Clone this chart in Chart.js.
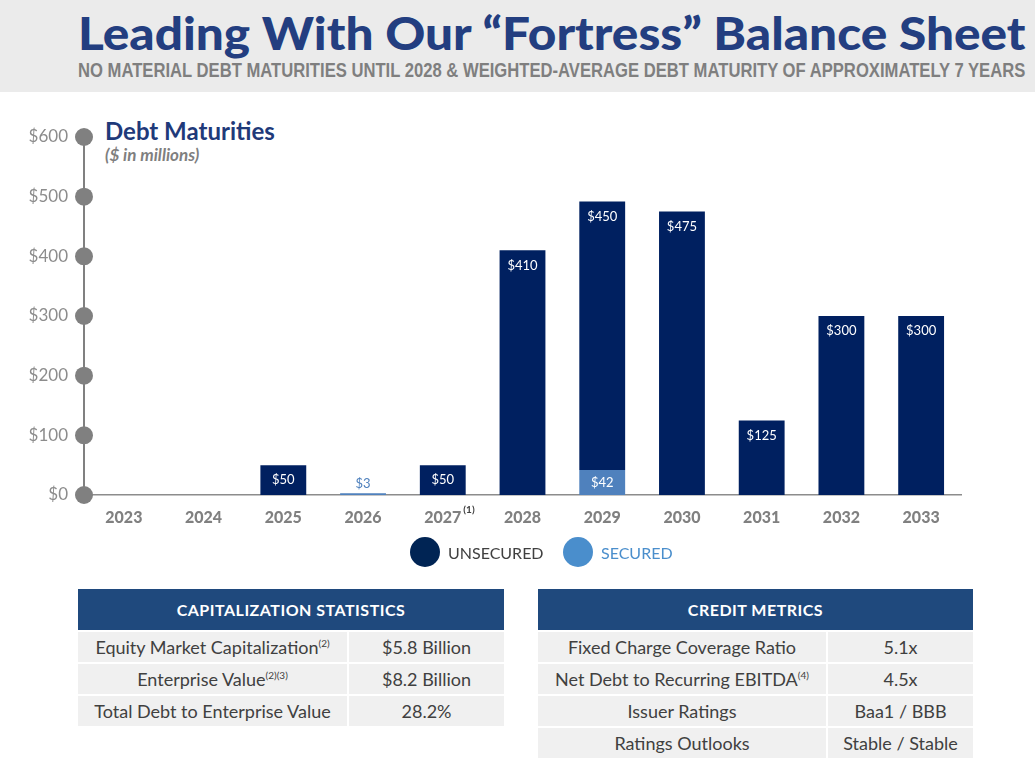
<!DOCTYPE html>
<html>
<head>
<meta charset="utf-8">
<script src="https://cdn.jsdelivr.net/npm/chart.js@4.4.1/dist/chart.umd.min.js"></script>
<style>
  body { margin: 0; width: 1035px; height: 767px; background: #fff; position: relative; overflow: hidden; font-family: Lato, "Liberation Sans", sans-serif; }
  .band { position: absolute; left: 0; top: 0; width: 1035px; height: 92px; background: #ebebeb; }
  .fit { position: absolute; left: 78px; white-space: nowrap; transform-origin: 0 0; }
  #title { top: 5px; font-size: 46px; font-weight: 900; color: #233e80; }
  #sub { top: 59px; font-size: 20px; font-weight: 700; color: #7f7f7f; font-family: "Liberation Sans Narrow", "Liberation Sans", sans-serif; }
  #chartTitle { position: absolute; left: 105px; top: 116px; font-size: 24px; font-weight: 700; color: #1f3a7a; }
  #chartSub { position: absolute; left: 105px; top: 144px; font-size: 17px; font-weight: 700; font-style: italic; color: #7f7f7f; }
  #wrap { position: absolute; left: 0; top: 100px; }
  .leg { position: absolute; top: 537px; height: 30px; display: flex; align-items: center; font-size: 16px; }
  .leg i { display: inline-block; width: 30px; height: 30px; border-radius: 50%; margin-right: 8px; }
  .tbl { position: absolute; top: 589px; }
  .tbl .hd { height: 41px; background: #1f497d; color: #fff; font-weight: 700; font-size: 16px; letter-spacing: 0.5px; display: flex; align-items: center; justify-content: center; }
  .tbl .row { display: flex; margin-top: 2px; }
  .tbl .row:first-of-type { margin-top: 4px; }
  .tbl .c { height: 30px; background: #f0f0f0; color: #404040; font-size: 18px; display: flex; align-items: center; justify-content: center; white-space: nowrap; }
  .tbl .c + .c { margin-left: 2px; }
  sup { font-size: 10px; vertical-align: 7px; line-height: 0; }
</style>
</head>
<body>
<div class="band"></div>
<div id="title" class="fit">Leading With Our “Fortress” Balance Sheet</div>
<div id="sub" class="fit">NO MATERIAL DEBT MATURITIES UNTIL 2028 &amp; WEIGHTED-AVERAGE DEBT MATURITY OF APPROXIMATELY 7 YEARS</div>

<div id="chartTitle">Debt Maturities</div>
<div id="chartSub">($ in millions)</div>
<div id="wrap"><canvas id="chart" width="1035" height="480"></canvas></div>

<div class="leg" style="left:410px;color:#404040"><i style="background:#002454"></i>UNSECURED</div>
<div class="leg" style="left:563px;color:#4a8ecc"><i style="background:#4a8ecc"></i>SECURED</div>

<div class="tbl" style="left:78px;width:426px">
  <div class="hd">CAPITALIZATION STATISTICS</div>
  <div class="row"><div class="c" style="width:269px"><span>Equity Market Capitalization<sup>(2)</sup></span></div><div class="c" style="width:155px">$5.8 Billion</div></div>
  <div class="row"><div class="c" style="width:269px"><span>Enterprise Value<sup>(2)(3)</sup></span></div><div class="c" style="width:155px">$8.2 Billion</div></div>
  <div class="row"><div class="c" style="width:269px">Total Debt to Enterprise Value</div><div class="c" style="width:155px">28.2%</div></div>
</div>

<div class="tbl" style="left:538px;width:435px">
  <div class="hd">CREDIT METRICS</div>
  <div class="row"><div class="c" style="width:288px">Fixed Charge Coverage Ratio</div><div class="c" style="width:145px">5.1x</div></div>
  <div class="row"><div class="c" style="width:288px"><span>Net Debt to Recurring EBITDA<sup>(4)</sup></span></div><div class="c" style="width:145px">4.5x</div></div>
  <div class="row"><div class="c" style="width:288px">Issuer Ratings</div><div class="c" style="width:145px">Baa1 / BBB</div></div>
  <div class="row"><div class="c" style="width:288px">Ratings Outlooks</div><div class="c" style="width:145px">Stable / Stable</div></div>
</div>

<script>
const years = ['2023', '2024', '2025', '2026', '2027', '2028', '2029', '2030', '2031', '2032', '2033'];
const secured = [null, null, null, 3, null, null, 42, null, null, null, null];
const unsecured = [null, null, 50, null, 50, 410, 450, 475, 125, 300, 300];
const yTicks = [0, 100, 200, 300, 400, 500, 600];
const footnoteYear = '2027';

// stretch header lines to the reference width
function fit(id, w) {
  const el = document.getElementById(id);
  el.style.transform = 'scaleX(' + (w / el.scrollWidth) + ')';
}
fit('title', 947);
fit('sub', 947);

const NAVY = '#002060';
const BLUE = '#4f81bd';
const GREY = '#808080';

const tickDots = {
  id: 'tickDots',
  afterDraw(chart) {
    const ctx = chart.ctx;
    const ys = chart.scales.y;
    ctx.save();
    ctx.fillStyle = GREY;
    yTicks.forEach(v => {
      ctx.beginPath();
      ctx.arc(chart.chartArea.left, ys.getPixelForValue(v), 9, 0, Math.PI * 2);
      ctx.fill();
    });
    // footnote marker on 2027
    const xs = chart.scales.x;
    const i = years.indexOf(footnoteYear);
    ctx.font = 'bold 16px Lato';
    const w = ctx.measureText(footnoteYear).width;
    ctx.font = 'bold 10px Lato';
    ctx.fillStyle = '#404040';
    ctx.textBaseline = 'middle';
    ctx.fillText('(1)', xs.getPixelForValue(i) + w / 2 + 2, chart.chartArea.bottom + 15);
    ctx.restore();
  }
};

const barLabels = {
  id: 'barLabels',
  afterDatasetsDraw(chart) {
    const ctx = chart.ctx;
    ctx.save();
    ctx.font = '13px Lato';
    ctx.textAlign = 'center';
    ctx.textBaseline = 'middle';
    chart.data.datasets.forEach((ds, di) => {
      chart.getDatasetMeta(di).data.forEach((bar, j) => {
        const v = ds.data[j];
        if (!v) return;
        const h = bar.base - bar.y;
        let y = bar.y + 15;
        ctx.fillStyle = '#fff';
        if (h < 20) { y = bar.y - 9; ctx.fillStyle = BLUE; }
        else if (di === 0) { y = (bar.y + bar.base) / 2; }
        ctx.fillText('$' + v, bar.x, y);
      });
    });
    ctx.restore();
  }
};

function draw() {
  new Chart(document.getElementById('chart'), {
    type: 'bar',
    data: {
      labels: years,
      datasets: [
        { label: 'SECURED', data: secured, backgroundColor: BLUE, categoryPercentage: 1, barPercentage: 0.575 },
        { label: 'UNSECURED', data: unsecured, backgroundColor: NAVY, categoryPercentage: 1, barPercentage: 0.575 }
      ]
    },
    options: {
      responsive: false,
      animation: false,
      layout: { padding: { top: 37, right: 74, left: 0, bottom: 0 } },
      plugins: { legend: { display: false }, tooltip: { enabled: false } },
      scales: {
        x: {
          stacked: true,
          afterFit: s => { s.height = 85; },
          grid: { display: false, drawTicks: false },
          border: { display: true, color: '#8c8c8c', width: 1.5 },
          ticks: { color: GREY, padding: 13, font: { family: 'Lato', size: 16, weight: 900 } }
        },
        y: {
          stacked: true,
          min: 0,
          max: 600,
          afterFit: s => { s.width = 84; },
          afterBuildTicks: s => { s.ticks = yTicks.map(v => ({ value: v })); },
          grid: { display: false, drawTicks: false },
          border: { display: true, color: GREY, width: 2 },
          ticks: { color: '#8c8c8c', padding: 16, font: { family: 'Lato', size: 17 }, callback: v => '$' + v }
        }
      }
    },
    plugins: [barLabels, tickDots]
  });
}

Promise.all([
  document.fonts.load('16px Lato'),
  document.fonts.load('bold 16px Lato'),
  document.fonts.load('900 16px Lato')
]).then(draw, draw);
</script>
</body>
</html>
